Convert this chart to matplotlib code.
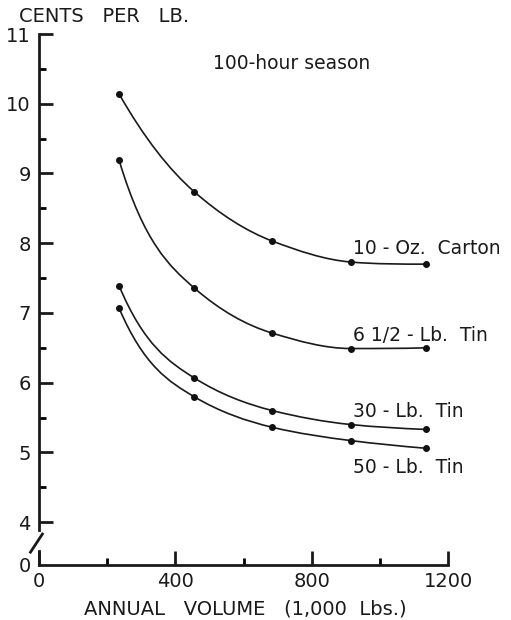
import numpy as np
import matplotlib
matplotlib.use("Agg")
import matplotlib.pyplot as plt
from matplotlib.path import Path
from matplotlib.patches import PathPatch
from matplotlib.ticker import MultipleLocator

# annual volume (1,000 lbs) and cents per lb
volume = [235, 455, 685, 915, 1135]
carton_10oz = [10.14, 8.74, 8.03, 7.73, 7.70]
tin_6half = [9.19, 7.36, 6.71, 6.49, 6.50]
tin_30lb = [7.39, 6.07, 5.60, 5.40, 5.33]
tin_50lb = [7.07, 5.80, 5.36, 5.17, 5.06]

series = [carton_10oz, tin_6half, tin_30lb, tin_50lb]
names = ['10 - Oz.  Carton', '6 1/2 - Lb.  Tin', '30 - Lb.  Tin', '50 - Lb.  Tin']
label_xy = [(920, 7.93), (920, 6.68), (920, 5.58), (920, 4.78)]

y_zero = 3.386  # where "0" sits below the axis break
ink = '#1a1a1a'


def tangents(x, y):
    # slopes estimated in 1/x space (curves look hyperbolic), then limited
    x = np.asarray(x, float)
    y = np.asarray(y, float)
    u = 1.0 / x
    h = np.diff(u)
    s = np.diff(y) / h
    mu = np.zeros_like(x)
    for i in range(1, len(x) - 1):
        mu[i] = (h[i] * s[i - 1] + h[i - 1] * s[i]) / (h[i - 1] + h[i])
    mu[0] = ((2 * h[0] + h[1]) * s[0] - h[0] * s[1]) / (h[0] + h[1])
    mu[-1] = ((2 * h[-1] + h[-2]) * s[-1] - h[-1] * s[-2]) / (h[-1] + h[-2])
    m = -mu / x ** 2
    sx = np.diff(y) / np.diff(x)
    for i in range(len(x)):
        left = sx[i - 1] if i > 0 else sx[0]
        right = sx[i] if i < len(sx) else sx[-1]
        if left * right <= 0:
            m[i] = 0.0
            continue
        lim = 3 * min(abs(left), abs(right))
        if m[i] * right <= 0:
            m[i] = 0.0
        elif abs(m[i]) > lim:
            m[i] = np.sign(m[i]) * lim
    return m


def smooth_path(x, y):
    # cubic bezier segments through the points
    m = tangents(x, y)
    verts = [(x[0], y[0])]
    codes = [Path.MOVETO]
    for i in range(len(x) - 1):
        h = x[i + 1] - x[i]
        verts += [(x[i] + h / 3, y[i] + m[i] * h / 3),
                  (x[i + 1] - h / 3, y[i + 1] - m[i + 1] * h / 3),
                  (x[i + 1], y[i + 1])]
        codes += [Path.CURVE4] * 3
    return Path(verts, codes)


plt.rcParams['font.family'] = 'DejaVu Sans'
fig = plt.figure(figsize=(5.11, 6.20), dpi=100)
ax = fig.add_axes([39 / 511, 1 - 565 / 620, (448 - 39) / 511, (565 - 34) / 620])

for vals, name, (lx, ly) in zip(series, names, label_xy):
    ax.add_patch(PathPatch(smooth_path(volume, vals), fill=False,
                           lw=1.2, edgecolor=ink))
    ax.plot(volume, vals, 'o', color='#111111', ms=4)
    ax.text(lx, ly, name, fontsize=13.5, ha='left', va='center', color=ink)

ax.set_xlim(0, 1200)
ax.set_ylim(y_zero, 11)

for sp in ['top', 'right', 'left']:
    ax.spines[sp].set_visible(False)
ax.spines['bottom'].set_linewidth(2)
ax.spines['bottom'].set_color(ink)

# broken y axis drawn by hand
ax.plot([0, 0], [3.886, 11], color=ink, lw=2, clip_on=False)
ax.plot([0, 0], [y_zero, 3.586], color=ink, lw=2, clip_on=False)
ax.plot([-25, 10], [3.57, 3.83], color=ink, lw=2, clip_on=False)

ax.xaxis.set_major_locator(MultipleLocator(400))
ax.xaxis.set_minor_locator(MultipleLocator(200))
ax.tick_params(axis='x', which='major', direction='in', length=10, width=2,
               labelsize=14, pad=5, colors=ink)
ax.tick_params(axis='x', which='minor', direction='in', length=5, width=2)

yt = [y_zero] + list(range(4, 12))
ax.set_yticks(yt)
ax.set_yticklabels(['0'] + [str(v) for v in range(4, 12)])
ax.set_yticks(np.arange(4.5, 11, 1), minor=True)
ax.tick_params(axis='y', which='major', direction='in', length=10, width=2,
               labelsize=14, pad=6, colors=ink)
ax.tick_params(axis='y', which='minor', direction='in', length=5, width=2)
ax.get_yticklines()[0].set_visible(False)
ax.get_yticklines()[1].set_visible(False)

fig.text(19 / 511, 1 - 17 / 620, 'CENTS   PER   LB.', fontsize=14, ha='left', va='center', color=ink)
ax.text(510, 10.57, '100-hour season', fontsize=13.5, ha='left', va='center', color=ink)
fig.text(245 / 511, 1 - 609 / 620, 'ANNUAL   VOLUME   (1,000  Lbs.)', fontsize=14,
         ha='center', va='center', color=ink)

fig.savefig('out.png', dpi=100, facecolor='white')
